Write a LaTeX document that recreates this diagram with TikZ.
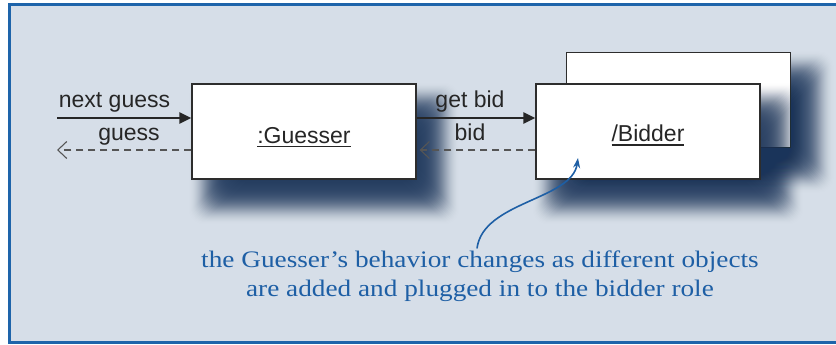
\documentclass[tikz,border=0pt]{standalone}
\usepackage{fontspec}
\setmainfont{Liberation Serif}
\setsansfont{Liberation Sans}
\newfontfamily\notefont[FakeStretch=1.15]{Liberation Serif}
\usetikzlibrary{arrows.meta,calc}
\definecolor{bg}{RGB}{214,222,232}
\definecolor{frameblue}{RGB}{30,100,170}
\definecolor{shcol}{RGB}{26,52,90}
\definecolor{noteblue}{RGB}{30,95,165}
\definecolor{boxline}{RGB}{45,45,45}
\definecolor{dashgray}{RGB}{85,85,85}
\newcommand\ulbox[1]{\setbox0\hbox{#1}\rlap{\rule[-3.8pt]{\wd0}{1.3pt}}\box0}
\newcommand\dropshadow[2]{%
  \foreach \k in {0,...,52}{%
    \pgfmathsetmacro\shal{0.08*sin(180*(\k+0.5)/53)^2}%
    \fill[shcol, fill opacity=\shal, rounded corners=14pt]
      (#1-118+\k, #2-51.5+\k) rectangle (#1+158-\k, #2+95.5-\k);
  }%
}
\begin{document}
\begin{tikzpicture}[x=1pt,y=-1pt,
  objbox/.style={draw=boxline, fill=white, line width=1.3pt, minimum width=224pt, minimum height=95pt, inner sep=0pt},
  lbl/.style={font=\sffamily\fontsize{23}{27}\selectfont, text=black!85, anchor=base, inner sep=0pt},
  msg/.style={line width=2.2pt, draw=black!85, -{Triangle[length=12pt,width=11pt]}},
  reply/.style={line width=1.3pt, draw=dashgray, dash pattern=on 7pt off 5pt, -{Straight Barb[length=9pt,width=17pt,line width=1.1pt]}},
  note/.style={font=\notefont\fontsize{23.7}{29}\selectfont, text=noteblue, align=center, inner sep=2pt},
  pointer/.style={draw=noteblue, line width=1.6pt, -{Stealth[length=10pt,width=7pt]}}
]
\useasboundingbox (0,0) rectangle (836,345);
\fill[white] (0,0) rectangle (836,345);
\begin{scope}
  \clip (0,0) rectangle (836,345);
  \fill[bg] (9.5,4.3) rectangle (900,342.5);
  \draw[frameblue, line width=2.8pt] (900,4.3) -- (9.5,4.3) -- (9.5,342.5) -- (900,342.5);
  % back bidder box
  \dropshadow{678.5}{100}
  \node[objbox] (bb) at (678.5,100) {};
  % front bidder box
  \dropshadow{648}{131.5}
  \node[objbox] (b) at (648,131.5) {};
  % guesser box
  \dropshadow{304}{131.5}
  \node[objbox] (g) at (304,131.5) {};
\end{scope}
\node[lbl] (gl) at ($(g.center)+(0,11.5)$) {\ulbox{:Guesser}};
\node[lbl] (bl) at ($(b.center)+(0,10.5)$) {\ulbox{/Bidder}};
\coordinate (inL) at (57,118);
\coordinate (outL) at (57,150);
\draw[msg] (inL) -- (inL -| g.west);
\draw[reply] (outL -| g.west) -- (outL);
\draw[msg] (inL -| g.east) -- (inL -| b.west);
\draw[reply, shorten >=3pt] (outL -| b.west) -- (outL -| g.east);
\node[lbl] (l1) at (114.5,107) {next guess};
\node[lbl] (l2) at (129,140) {guess};
\node[lbl] (l3) at (470,107) {get bid};
\node[lbl] (l4) at (470,140) {bid};
\node[note] (nt) at (480,276) {the Guesser’s behavior changes as different objects\\are added and plugged in to the bidder role};
\coordinate (tip) at (578,158);
\draw[pointer] ($(nt.north)+(-3,0)$) .. controls +(6,-47) and (572,200) .. (tip);
\end{tikzpicture}
\end{document}
